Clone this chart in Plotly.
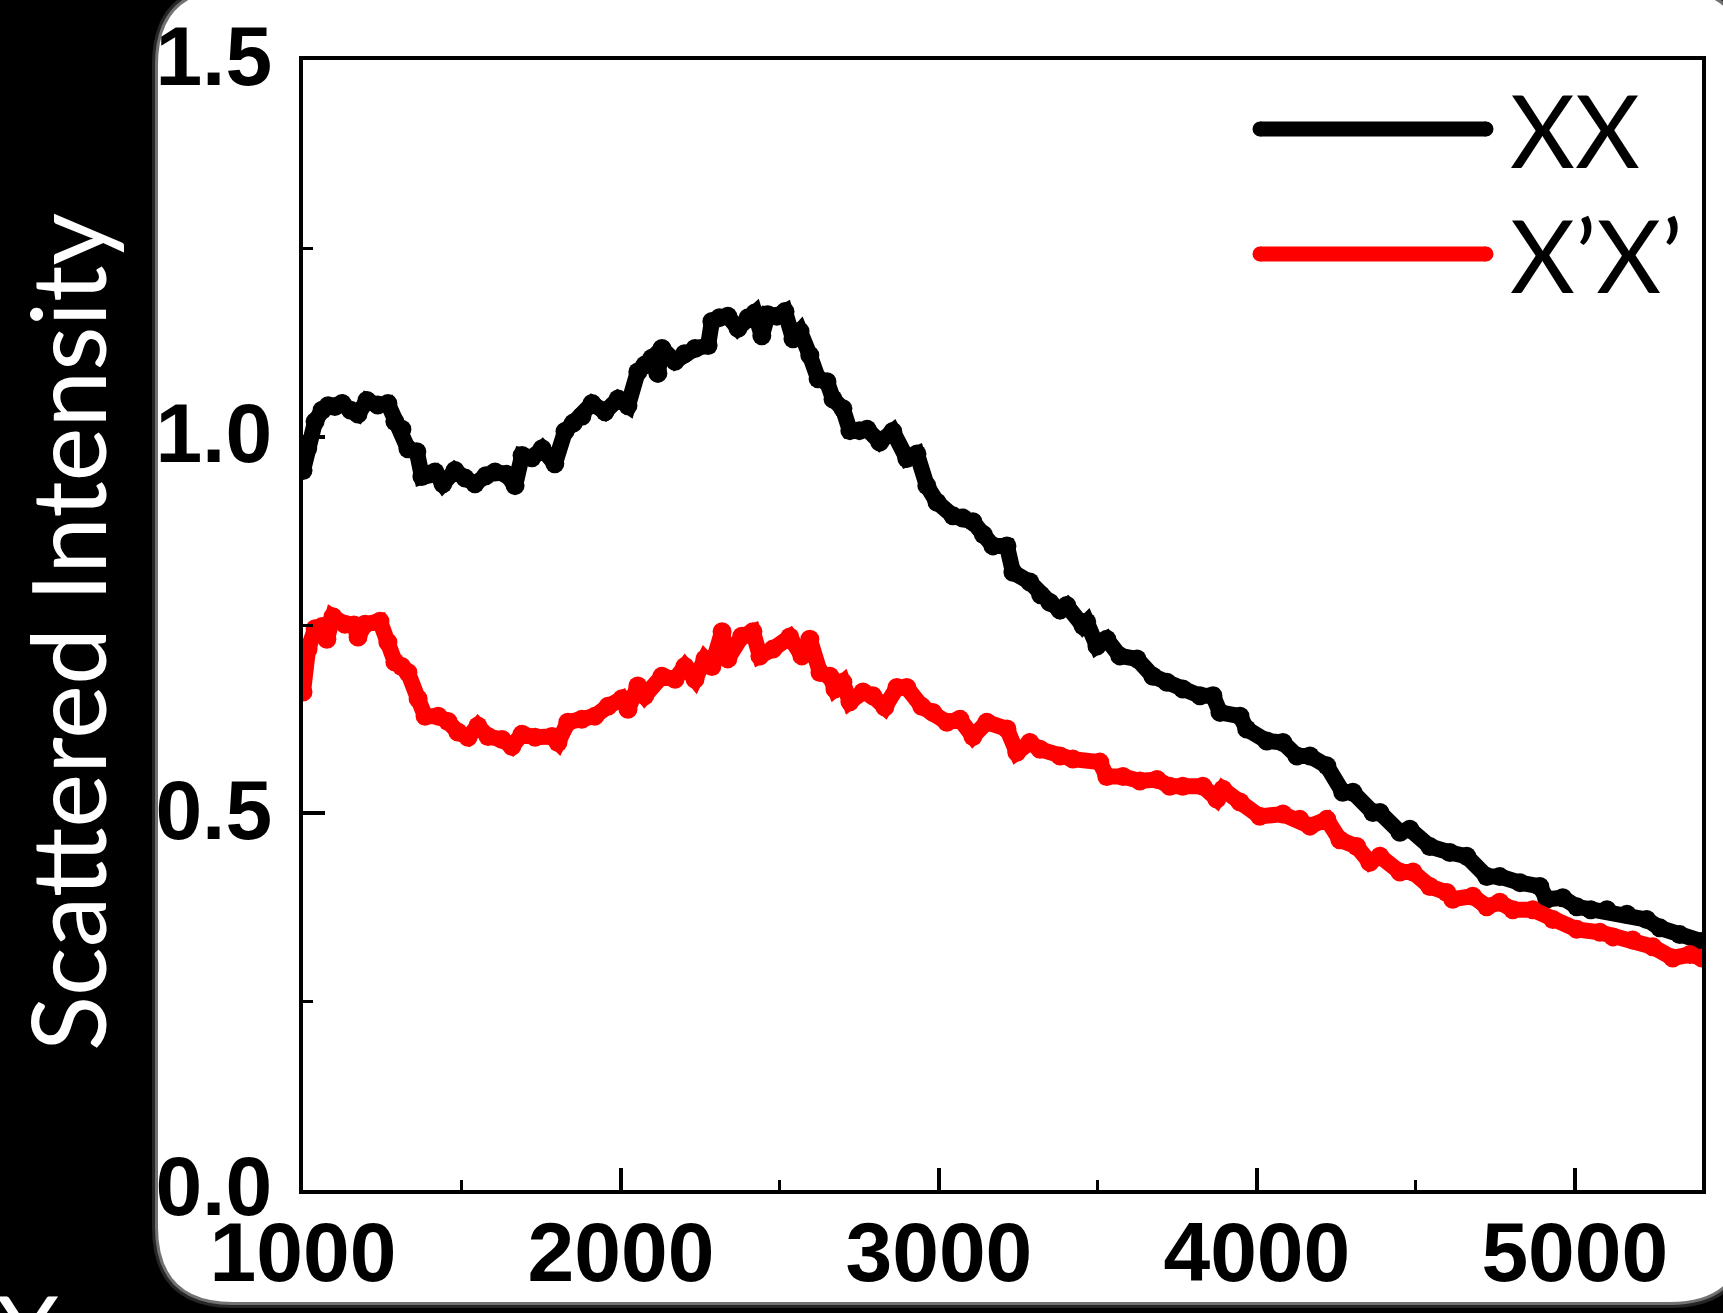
import plotly.graph_objects as go

# ---------------- data ----------------
xx_wavenumber = [1000, 1015, 1038, 1060, 1079, 1100, 1123, 1150, 1173, 1201, 1235, 1267, 1289, 1311,
                 1330, 1358, 1374, 1395, 1415, 1440, 1478, 1510, 1541, 1575, 1604, 1640, 1667, 1689,
                 1720, 1752, 1792, 1824, 1850, 1877, 1909, 1950, 1991, 2022, 2053, 2075, 2097, 2116,
                 2129, 2170, 2200, 2233, 2274, 2286, 2310, 2336, 2368, 2400, 2421, 2443, 2462, 2490,
                 2516, 2541, 2563, 2594, 2620, 2648, 2667, 2698, 2720, 2750, 2774, 2814, 2855, 2899,
                 2931, 2962, 2994, 3044, 3075, 3107, 3140, 3170, 3214, 3233, 3286, 3320, 3349, 3381,
                 3402, 3453, 3465, 3497, 3528, 3569, 3623, 3673, 3717, 3767, 3821, 3862, 3884, 3947,
                 3968, 4031, 4082, 4126, 4167, 4220, 4270, 4302, 4365, 4387, 4450, 4481, 4544, 4607,
                 4660, 4723, 4764, 4827, 4890, 4912, 4962, 5006, 5050, 5101, 5164, 5226, 5267, 5330,
                 5400]
xx_intensity = [0.955, 0.985, 1.020, 1.035, 1.041, 1.040, 1.044, 1.035, 1.030, 1.048, 1.042, 1.044,
                1.020, 1.010, 0.984, 0.980, 0.947, 0.950, 0.953, 0.9375, 0.955, 0.945, 0.9375, 0.948,
                0.953, 0.950, 0.935, 0.975, 0.972, 0.984, 0.964, 1.007, 1.018, 1.027, 1.044, 1.033,
                1.050, 1.041, 1.086, 1.095, 1.104, 1.084, 1.117, 1.100, 1.110, 1.117, 1.121, 1.153,
                1.158, 1.160, 1.144, 1.158, 1.164, 1.134, 1.162, 1.160, 1.166, 1.130, 1.140, 1.108,
                1.077, 1.073, 1.050, 1.037, 1.008, 1.008, 1.010, 0.993, 1.007, 0.971, 0.977, 0.935,
                0.913, 0.895, 0.892, 0.887, 0.870, 0.855, 0.855, 0.820, 0.807, 0.790, 0.780, 0.770,
                0.776, 0.749, 0.754, 0.722, 0.731, 0.709, 0.705, 0.682, 0.674, 0.665, 0.656, 0.656,
                0.634, 0.629, 0.612, 0.596, 0.594, 0.576, 0.576, 0.563, 0.528, 0.528, 0.501, 0.501,
                0.475, 0.479, 0.456, 0.448, 0.443, 0.416, 0.416, 0.408, 0.403, 0.386, 0.388, 0.376,
                0.372, 0.372, 0.366, 0.359, 0.348, 0.339, 0.330]

xpxp_wavenumber = [1000, 1016, 1038, 1060, 1075, 1094, 1132, 1160, 1173, 1195, 1242, 1267, 1289, 1310,
                   1330, 1362, 1384, 1425, 1456, 1487, 1519, 1550, 1582, 1626, 1657, 1689, 1730, 1783,
                   1802, 1833, 1877, 1918, 1959, 2003, 2022, 2053, 2075, 2129, 2170, 2201, 2233, 2264,
                   2286, 2318, 2336, 2380, 2415, 2437, 2478, 2531, 2569, 2594, 2626, 2657, 2673, 2698,
                   2720, 2761, 2792, 2830, 2868, 2899, 2946, 2981, 3025, 3066, 3107, 3151, 3214, 3245,
                   3286, 3318, 3381, 3421, 3506, 3528, 3579, 3632, 3686, 3726, 3767, 3830, 3874, 3893,
                   3947, 4009, 4082, 4135, 4167, 4220, 4261, 4314, 4355, 4387, 4450, 4491, 4544, 4597,
                   4616, 4679, 4723, 4764, 4805, 4868, 4931, 5006, 5079, 5120, 5182, 5245, 5308, 5362,
                   5400]
xpxp_intensity = [0.661, 0.718, 0.745, 0.748, 0.731, 0.761, 0.751, 0.750, 0.734, 0.751, 0.755, 0.727,
                  0.701, 0.695, 0.687, 0.652, 0.629, 0.629, 0.622, 0.608, 0.601, 0.616, 0.602, 0.598,
                  0.589, 0.605, 0.601, 0.602, 0.594, 0.621, 0.625, 0.629, 0.642, 0.652, 0.638, 0.669,
                  0.656, 0.682, 0.678, 0.695, 0.678, 0.705, 0.695, 0.741, 0.705, 0.735, 0.741, 0.709,
                  0.718, 0.734, 0.709, 0.731, 0.687, 0.682, 0.665, 0.674, 0.648, 0.661, 0.656, 0.641,
                  0.667, 0.667, 0.642, 0.634, 0.621, 0.625, 0.602, 0.621, 0.612, 0.581, 0.594, 0.585,
                  0.576, 0.572, 0.568, 0.549, 0.549, 0.543, 0.545, 0.536, 0.536, 0.536, 0.519, 0.532,
                  0.515, 0.496, 0.499, 0.492, 0.483, 0.492, 0.465, 0.456, 0.435, 0.443, 0.422, 0.422,
                  0.403, 0.395, 0.386, 0.390, 0.376, 0.382, 0.372, 0.372, 0.359, 0.346, 0.342, 0.336,
                  0.332, 0.323, 0.308, 0.3125, 0.308]

series_names = ["XX", "X\u2019X\u2019"]
series_colors = ["#000000", "#ff0000"]
x_ticks = [1000, 2000, 3000, 4000, 5000]
y_ticks = [0.0, 0.5, 1.0, 1.5]
y_tick_text = ["0.0", "0.5", "1.0", "1.5"]
y_title = "Scattered Intensity"

# ---------------- layout geometry (pixels) ----------------
W, H = 1723, 1313
L, R, T, B = 303, 21, 60, 123
PW, PH = W - L - R, H - T - B


def px(xp):
    return (xp - L) / PW


def py(yp):
    return 1 - (yp - T) / PH


def rounded_rect(x0, y0, x1, y1, r):
    pts = [
        f"M{px(x0 + r)},{py(y0)}",
        f"L{px(x1 - r)},{py(y0)}",
        f"Q{px(x1)},{py(y0)} {px(x1)},{py(y0 + r)}",
        f"L{px(x1)},{py(y1 - r)}",
        f"Q{px(x1)},{py(y1)} {px(x1 - r)},{py(y1)}",
        f"L{px(x0 + r)},{py(y1)}",
        f"Q{px(x0)},{py(y1)} {px(x0)},{py(y1 - r)}",
        f"L{px(x0)},{py(y0 + r)}",
        f"Q{px(x0)},{py(y0)} {px(x0 + r)},{py(y0)}",
        "Z",
    ]
    return " ".join(pts)


fig = go.Figure()
for xs, ys, name, col in [(xx_wavenumber, xx_intensity, series_names[0], series_colors[0]),
                          (xpxp_wavenumber, xpxp_intensity, series_names[1], series_colors[1])]:
    fig.add_trace(go.Scatter(
        x=xs, y=ys, name=name, mode="lines+markers",
        line=dict(color=col, width=16, shape="linear"),
        marker=dict(color=col, size=19),
        showlegend=False,
    ))

shapes = []
# white slide panel with a soft edge
for grow, op in [(6, 0.15), (3, 0.35)]:
    shapes.append(dict(type="path", xref="paper", yref="paper", layer="below",
                       path=rounded_rect(158 - grow, -10 - grow, 1745 + grow, 1302 + grow, 75 + grow),
                       fillcolor=f"rgba(255,255,255,{op})", line=dict(width=0)))
shapes.append(dict(type="path", xref="paper", yref="paper", layer="below",
                   path=rounded_rect(158, -10, 1745, 1302, 75),
                   fillcolor="white", line=dict(width=0)))

# legend sample lines (round caps)
leg_y = [129, 254]
lx0, lx1, lw = 1260, 1486, 15
for yy, col in zip(leg_y, series_colors):
    shapes.append(dict(type="line", xref="paper", yref="paper",
                       x0=px(lx0), x1=px(lx1), y0=py(yy), y1=py(yy),
                       line=dict(color=col, width=lw)))
    for cx in (lx0, lx1):
        shapes.append(dict(type="circle", xref="paper", yref="paper",
                           x0=px(cx - lw / 2), x1=px(cx + lw / 2),
                           y0=py(yy + lw / 2), y1=py(yy - lw / 2),
                           fillcolor=col, line=dict(width=0)))

annotations = []
for yy, name in zip(leg_y, series_names):
    annotations.append(dict(text=name, xref="paper", yref="paper", x=px(1508), y=py(yy),
                            xanchor="left", yanchor="middle", showarrow=False,
                            font=dict(family="Lato, Open Sans, sans-serif", size=100, color="black")))

annotations.append(dict(text=y_title, xref="paper", yref="paper", x=px(66), y=py(632),
                        xanchor="center", yanchor="middle", textangle=-90, showarrow=False,
                        font=dict(family="Lato, Open Sans, sans-serif", size=102, color="white")))

# cut-off letter at the bottom-left of the slide
annotations.append(dict(text="X", xref="paper", yref="paper", x=px(27), y=py(1330),
                        xanchor="center", yanchor="middle", showarrow=False,
                        font=dict(family="Lato, Open Sans, sans-serif", size=100, color="white")))

tickfont = dict(family="Liberation Sans, Arial, sans-serif",
                size=84, color="black", weight="bold")

fig.update_layout(
    width=W, height=H,
    margin=dict(l=L, r=R, t=T, b=B, pad=0, autoexpand=False),
    paper_bgcolor="black",
    plot_bgcolor="rgba(0,0,0,0)",
    shapes=shapes,
    annotations=annotations,
    showlegend=False,
    xaxis=dict(
        range=[1000, 5400], tickvals=x_ticks, ticktext=[str(v) for v in x_ticks],
        ticks="inside", ticklen=22, tickwidth=4, tickcolor="black",
        minor=dict(ticks="inside", ticklen=10, tickwidth=3, tickcolor="black",
                   tickvals=[1500, 2500, 3500, 4500]),
        showline=True, linecolor="black", linewidth=4, mirror=True, automargin=False,
        showgrid=False, zeroline=False, tickfont=tickfont, ticklabelstandoff=-14,
    ),
    yaxis=dict(
        range=[0, 1.5], tickvals=y_ticks, ticktext=y_tick_text,
        ticks="inside", ticklen=22, tickwidth=4, tickcolor="black",
        minor=dict(ticks="inside", ticklen=10, tickwidth=3, tickcolor="black",
                   tickvals=[0.25, 0.75, 1.25]),
        showline=True, linecolor="black", linewidth=4, mirror=True, automargin=False,
        showgrid=False, zeroline=False, tickfont=tickfont, ticklabelstandoff=10,
        ticklabelshift=-4,
    ),
)

fig.write_html("out.html", config={"displayModeBar": False},
               post_script="document.body.style.margin='0';document.body.style.background='black';")
